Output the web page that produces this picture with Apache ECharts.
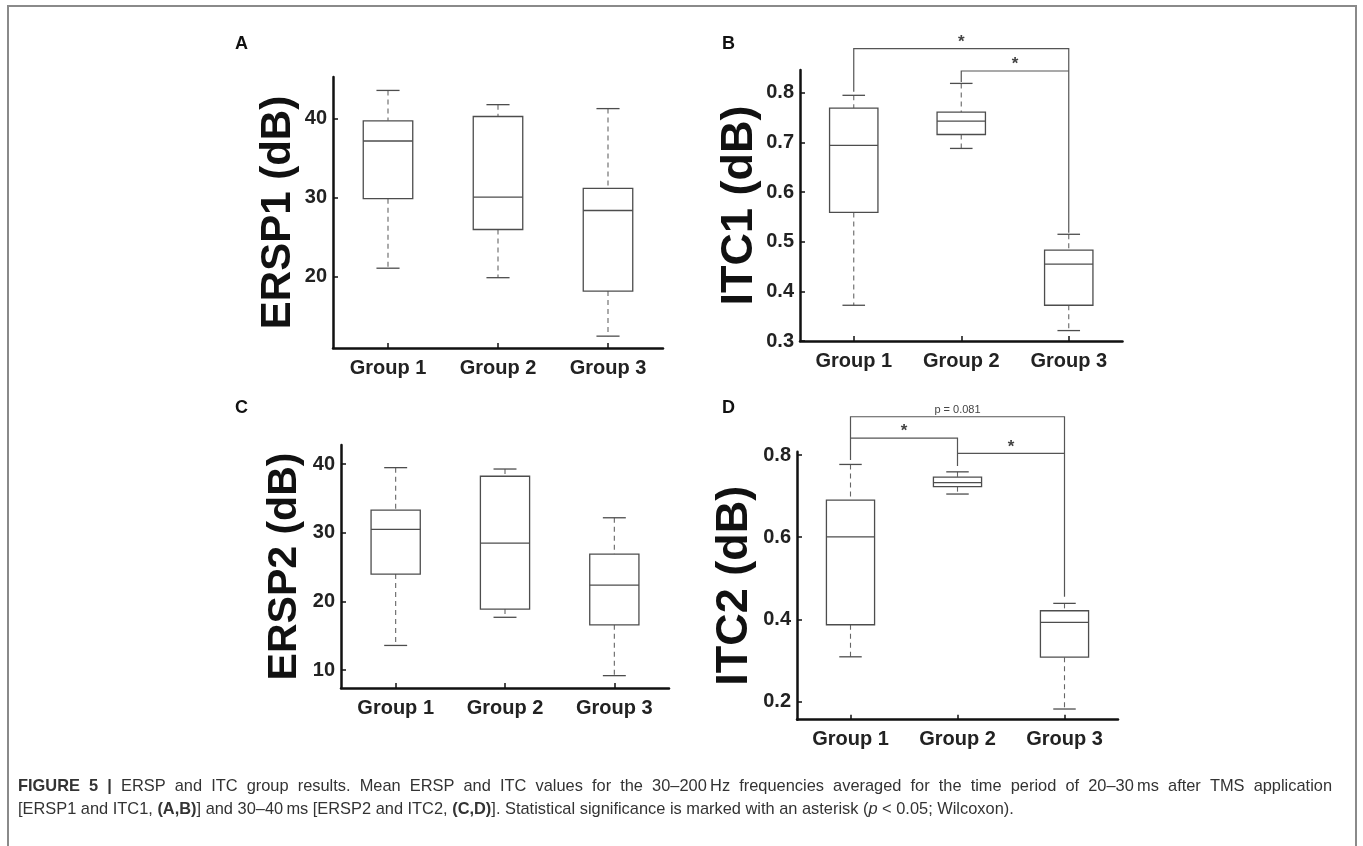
<!DOCTYPE html>
<html>
<head>
<meta charset="utf-8">
<script src="https://cdn.jsdelivr.net/npm/echarts@6/dist/echarts.min.js"></script>
<style>
html,body{margin:0;padding:0;background:#fff;}
#chart{width:1363px;height:846px;}
</style>
</head>
<body>
<div id="chart"></div>
<script>
// ---------------- data ----------------
const categories = ['Group 1', 'Group 2', 'Group 3'];
// [lower whisker, Q1, median, Q3, upper whisker]
const ersp1 = [[21.1, 29.9, 37.2, 39.75, 43.6], [19.9, 26.0, 30.1, 40.3, 41.8], [12.5, 18.2, 28.4, 31.2, 41.3]];
const itc1  = [[0.372, 0.559, 0.694, 0.769, 0.795], [0.688, 0.716, 0.743, 0.761, 0.819], [0.321, 0.372, 0.455, 0.483, 0.515]];
const ersp2 = [[13.6, 24.0, 30.5, 33.3, 39.5], [17.7, 18.9, 28.5, 38.25, 39.3], [9.2, 16.6, 22.4, 26.9, 32.2]];
const itc2  = [[0.309, 0.387, 0.601, 0.690, 0.777], [0.705, 0.723, 0.733, 0.746, 0.759], [0.182, 0.308, 0.393, 0.421, 0.439]];

const ticksA = [20, 30, 40];
const ticksB = [0.3, 0.4, 0.5, 0.6, 0.7, 0.8];
const ticksC = [10, 20, 30, 40];
const ticksD = [0.2, 0.4, 0.6, 0.8];

const rangeA = [11.0, 45.3];
const rangeB = [0.3, 0.846];
const rangeC = [7.4, 42.8];
const rangeD = [0.156, 0.808];

// significance brackets: [fromGroup, legFromValue, levelValue, toGroup, legToValue]
const bracketsB = [[0, 0.802, 0.889, 2, 0.518], [1, 0.822, 0.844, 2, 0.844]];
const bracketLabelsB = ['*', '*'];
const bracketsD = [[0, 0.788, 0.893, 2, 0.455], [0, 0.841, 0.841, 1, 0.773], [1, 0.804, 0.804, 2, 0.804]];
const bracketLabelsD = ['p = 0.081', '*', '*'];

const yNames = ['ERSP1 (dB)', 'ITC1 (dB)', 'ERSP2 (dB)', 'ITC2 (dB)'];
const panelLetters = ['A', 'B', 'C', 'D'];

// caption: [text, style] tokens; line 1 is justified
const captionLine1 = [['FIGURE', 'b'], ['5', 'b'], ['|', 'b'], ['ERSP', ''], ['and', ''], ['ITC', ''], ['group', ''], ['results.', ''], ['Mean', ''], ['ERSP', ''], ['and', ''], ['ITC', ''], ['values', ''], ['for', ''], ['the', ''], ['30–200\u2009Hz', ''], ['frequencies', ''], ['averaged', ''], ['for', ''], ['the', ''], ['time', ''], ['period', ''], ['of', ''], ['20–30\u2009ms', ''], ['after', ''], ['TMS', ''], ['application', '']];
const captionLine2 = '[ERSP1 and ITC1, {b|(A,B)}] and 30–40\u2009ms [ERSP2 and ITC2, {b|(C,D)}]. Statistical significance is marked with an asterisk ({i|p} < 0.05; Wilcoxon).';

// ---------------- layout / style ----------------
const FONT = 'Liberation Sans, Arial, Helvetica, sans-serif';
const grids = [
  { left: 333, top: 77,    width: 330,   height: 271 },
  { left: 800, top: 70,    width: 322.5, height: 271 },
  { left: 341, top: 445,   width: 328,   height: 243 },
  { left: 797, top: 451.7, width: 321,   height: 268 }
];
const yNameSize = [42, 45, 41, 45];
const yNameGap = [34, 38, 36, 40];
const letterPos = [[235, 35], [722, 35], [235, 399], [722, 399]];
const boxColor = '#4d4d4d';
const axisColor = '#111';
const capFontSize = 16.4;
const capLeft = 18, capRight = 1332, capTop1 = 778, capTop2 = 801;

function boxRender(params, api) {
  const x = api.value(0);
  const lo = api.coord([x, api.value(1)]);
  const q1 = api.coord([x, api.value(2)]);
  const md = api.coord([x, api.value(3)]);
  const q3 = api.coord([x, api.value(4)]);
  const hi = api.coord([x, api.value(5)]);
  const band = api.size([1, 0])[0];
  const bw = band * 0.45, cw = band * 0.21;
  const cx = md[0];
  const solid = { stroke: boxColor, lineWidth: 1.3, fill: null };
  const dashed = { stroke: '#666', lineWidth: 1.1, lineDash: [5, 4], fill: null };
  return {
    type: 'group',
    children: [
      { type: 'line', shape: { x1: cx, y1: hi[1], x2: cx, y2: q3[1] }, style: dashed },
      { type: 'line', shape: { x1: cx, y1: q1[1], x2: cx, y2: lo[1] }, style: dashed },
      { type: 'line', shape: { x1: cx - cw / 2, y1: hi[1], x2: cx + cw / 2, y2: hi[1] }, style: solid },
      { type: 'line', shape: { x1: cx - cw / 2, y1: lo[1], x2: cx + cw / 2, y2: lo[1] }, style: solid },
      { type: 'rect', shape: { x: cx - bw / 2, y: q3[1], width: bw, height: q1[1] - q3[1] }, style: { stroke: boxColor, lineWidth: 1.3, fill: '#fff' } },
      { type: 'line', shape: { x1: cx - bw / 2, y1: md[1], x2: cx + bw / 2, y2: md[1] }, style: solid }
    ]
  };
}

function makeBracketRender(labels) {
  return function (params, api) {
    const a = api.coord([api.value(0), api.value(1)]);
    const b = api.coord([api.value(0), api.value(2)]);
    const c = api.coord([api.value(3), api.value(2)]);
    const d = api.coord([api.value(3), api.value(4)]);
    const lab = labels[params.dataIndex];
    const isStar = lab === '*';
    return {
      type: 'group',
      children: [
        { type: 'polyline', shape: { points: [a, b, c, d] }, style: { stroke: '#555', lineWidth: 1.2, fill: null } },
        { type: 'text', x: (b[0] + c[0]) / 2, y: b[1] + (isStar ? 2 : -1),
          style: { text: lab, fontSize: isStar ? 17 : 11, fontWeight: isStar ? 'bold' : 'normal',
                   fill: '#444', align: 'center', verticalAlign: 'bottom', fontFamily: FONT } }
      ]
    };
  };
}

// justified first caption line
function justifiedLine(tokens, left, right, top) {
  const ctx = document.createElement('canvas').getContext('2d');
  const widths = tokens.map(t => {
    ctx.font = (t[1] === 'b' ? 'bold ' : '') + capFontSize + 'px "Liberation Sans", Arial, sans-serif';
    return ctx.measureText(t[0]).width;
  });
  const total = widths.reduce((s, w) => s + w, 0);
  const gap = (right - left - total) / (tokens.length - 1);
  let x = left;
  return tokens.map((t, i) => {
    const el = { type: 'text', x: x, y: top,
      style: { text: t[0], fontSize: capFontSize, fontWeight: t[1] === 'b' ? 'bold' : 'normal', fill: '#333', fontFamily: FONT } };
    x += widths[i] + gap;
    return el;
  });
}

const boxData = [ersp1, itc1, ersp2, itc2].map(arr => arr.map((v, i) => [i].concat(v)));
const ranges = [rangeA, rangeB, rangeC, rangeD];
const ticks = [ticksA, ticksB, ticksC, ticksD];

const option = {
  animation: false,
  backgroundColor: '#fff',
  grid: grids.map(g => Object.assign({ containLabel: false }, g)),
  xAxis: grids.map((g, i) => ({
    type: 'category', gridIndex: i, data: categories,
    axisLine: { show: true, lineStyle: { color: axisColor, width: 2.5 } },
    axisTick: { show: true, alignWithLabel: true, inside: true, length: 5, lineStyle: { color: axisColor, width: 1.5 } },
    axisLabel: { fontSize: 20, fontWeight: 'bold', color: '#222', margin: 10, fontFamily: FONT },
    splitLine: { show: false }
  })),
  yAxis: grids.map((g, i) => ({
    type: 'value', gridIndex: i, min: ranges[i][0], max: ranges[i][1],
    name: yNames[i], nameLocation: 'middle', nameGap: yNameGap[i],
    nameTextStyle: { fontSize: yNameSize[i], fontWeight: 'bold', color: '#111', fontFamily: FONT },
    axisLine: { show: true, lineStyle: { color: axisColor, width: 2.5 } },
    axisTick: { show: true, inside: true, length: 5, customValues: ticks[i], lineStyle: { color: axisColor, width: 1.5 } },
    axisLabel: { customValues: ticks[i], fontSize: 20, fontWeight: 'bold', color: '#222', margin: 6, fontFamily: FONT },
    splitLine: { show: false }
  })),
  series: boxData.map((d, i) => ({
    type: 'custom', xAxisIndex: i, yAxisIndex: i, renderItem: boxRender,
    encode: { x: 0, y: [1, 2, 3, 4, 5] }, data: d, clip: false, z: 3
  })).concat([
    { type: 'custom', xAxisIndex: 1, yAxisIndex: 1, renderItem: makeBracketRender(bracketLabelsB),
      encode: { x: [0, 3], y: [1, 2, 4] }, data: bracketsB, clip: false, z: 4 },
    { type: 'custom', xAxisIndex: 3, yAxisIndex: 3, renderItem: makeBracketRender(bracketLabelsD),
      encode: { x: [0, 3], y: [1, 2, 4] }, data: bracketsD, clip: false, z: 4 }
  ]),
  graphic: [
    { type: 'rect', shape: { x: 8, y: 6, width: 1348, height: 860 }, style: { stroke: '#8a8a8a', lineWidth: 2, fill: null }, z: 0, silent: true }
  ].concat(panelLetters.map((t, i) => ({
    type: 'text', x: letterPos[i][0], y: letterPos[i][1],
    style: { text: t, fontSize: 18, fontWeight: 'bold', fill: '#111', fontFamily: FONT }
  }))).concat(justifiedLine(captionLine1, capLeft, capRight, capTop1)).concat([
    { type: 'text', x: capLeft, y: capTop2,
      style: {
        text: captionLine2, fontSize: capFontSize, fill: '#333', fontFamily: FONT,
        rich: {
          b: { fontWeight: 'bold', fontSize: capFontSize, fill: '#333', fontFamily: FONT },
          i: { fontStyle: 'italic', fontSize: capFontSize, fill: '#333', fontFamily: FONT }
        }
      } }
  ])
};

const chart = echarts.init(document.getElementById('chart'), null, { renderer: 'canvas' });
chart.setOption(option);
</script>
</body>
</html>
